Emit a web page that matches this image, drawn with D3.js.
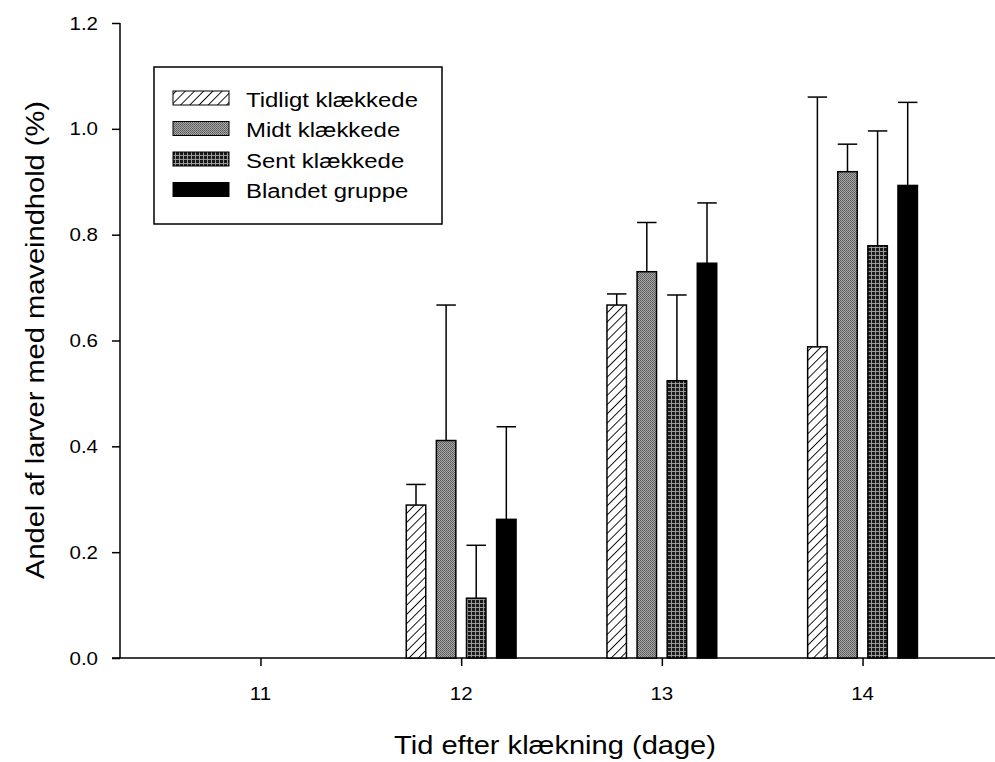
<!DOCTYPE html>
<html><head><meta charset="utf-8">
<script src="https://cdn.jsdelivr.net/npm/d3@7"></script>
<style>body{margin:0;background:#fff;} svg{display:block;font-family:Arial,"Liberation Sans",sans-serif;}</style>
</head><body>
<svg id="chart" width="995" height="762"></svg>
<script>
const days = [11, 12, 13, 14];
const seriesNames = ["Tidligt klækkede", "Midt klækkede", "Sent klækkede", "Blandet gruppe"];
const tidligt = [null, 0.289, 0.667, 0.588];
const tidligtErr = [null, 0.039, 0.021, 0.472];
const midt = [null, 0.411, 0.730, 0.919];
const midtErr = [null, 0.256, 0.093, 0.052];
const sent = [null, 0.113, 0.524, 0.779];
const sentErr = [null, 0.100, 0.162, 0.217];
const blandet = [null, 0.262, 0.746, 0.893];
const blandetErr = [null, 0.175, 0.114, 0.157];
const yTicks = [0.0, 0.2, 0.4, 0.6, 0.8, 1.0, 1.2];

const series = [
  {name: seriesNames[0], values: tidligt, errs: tidligtErr, fill: "url(#pHatch)"},
  {name: seriesNames[1], values: midt, errs: midtErr, fill: "url(#pMidt)"},
  {name: seriesNames[2], values: sent, errs: sentErr, fill: "url(#pSent)"},
  {name: seriesNames[3], values: blandet, errs: blandetErr, fill: "#000"}
];

const svg = d3.select("#chart");
const x = d3.scaleLinear().domain([10.3, 14.66]).range([120, 995]);
const y = d3.scaleLinear().domain([0, 1.2]).range([658, 23]);
const offsets = [-0.225, -0.075, 0.075, 0.225];
const bw = 0.097;
const SX = 1.14; // horizontal stretch of the original typeface

function label(g, px, py, txt, size, anchor, rot) {
  return g.append("text")
    .attr("transform", `translate(${px},${py}) rotate(${rot || 0}) scale(${SX},1)`)
    .attr("text-anchor", anchor).attr("font-size", size).attr("fill", "#000").text(txt);
}

// patterns
const defs = svg.append("defs");
const ph = defs.append("pattern").attr("id", "pHatch").attr("patternUnits", "userSpaceOnUse")
  .attr("width", 6.5).attr("height", 6.5).attr("patternTransform", "rotate(45)");
ph.append("rect").attr("width", 6.5).attr("height", 6.5).attr("fill", "#fff");
ph.append("line").attr("x1", 0).attr("y1", 0).attr("x2", 0).attr("y2", 6.5).attr("stroke", "#000").attr("stroke-width", 1.8);
const pm = defs.append("pattern").attr("id", "pMidt").attr("patternUnits", "userSpaceOnUse").attr("width", 2).attr("height", 2);
pm.append("rect").attr("width", 2).attr("height", 2).attr("fill", "#aaa");
pm.append("rect").attr("width", 1).attr("height", 1).attr("fill", "#555");
pm.append("rect").attr("x", 1).attr("y", 1).attr("width", 1).attr("height", 1).attr("fill", "#666");
const ps = defs.append("pattern").attr("id", "pSent").attr("patternUnits", "userSpaceOnUse").attr("width", 4).attr("height", 4);
ps.append("rect").attr("width", 4).attr("height", 4).attr("fill", "#1a1a1a");
ps.append("rect").attr("x", 0).attr("y", 3).attr("width", 4).attr("height", 1).attr("fill", "#9a9a9a");
ps.append("rect").attr("x", 3).attr("y", 0).attr("width", 1).attr("height", 4).attr("fill", "#9a9a9a");

// axes
const yAxis = d3.axisLeft(y).tickValues(yTicks).tickFormat("").tickSize(8);
const gy = svg.append("g").attr("transform", "translate(120,0)").call(yAxis);
gy.select(".domain").attr("stroke-width", 1.5).attr("d", "M0,23V658");
gy.selectAll(".tick line").attr("stroke-width", 1.5);
const fmtY = d3.format(".1f");
yTicks.forEach(t => label(svg, 98, y(t) + 6.5, fmtY(t), 18, "end"));

const xAxis = d3.axisBottom(x).tickValues(days).tickFormat("").tickSize(8);
const gx = svg.append("g").attr("transform", "translate(0,658)").call(xAxis);
gx.select(".domain").attr("stroke-width", 1.5).attr("d", "M112,0H995");
gx.selectAll(".tick line").attr("stroke-width", 1.5);
days.forEach(d => label(svg, x(d), 700, String(d), 18, "middle"));

// bars
series.forEach((s, si) => {
  const g = svg.append("g");
  days.forEach((d, i) => {
    const v = s.values[i];
    if (v == null) return;
    const x0 = x(d + offsets[si] - bw / 2), x1 = x(d + offsets[si] + bw / 2);
    const xc = x(d + offsets[si]);
    const top = y(v + s.errs[i]);
    g.append("line").attr("x1", xc).attr("x2", xc).attr("y1", y(v)).attr("y2", top).attr("stroke", "#000").attr("stroke-width", 1.5);
    g.append("line").attr("x1", x0).attr("x2", x1).attr("y1", top).attr("y2", top).attr("stroke", "#000").attr("stroke-width", 1.5);
    g.append("rect").attr("x", x0).attr("y", y(v)).attr("width", x1 - x0).attr("height", y(0) - y(v))
      .attr("fill", s.fill).attr("stroke", "#000").attr("stroke-width", 1.5);
  });
});

// legend
const lg = svg.append("g");
lg.append("rect").attr("x", 154).attr("y", 67).attr("width", 288).attr("height", 157)
  .attr("fill", "#fff").attr("stroke", "#000").attr("stroke-width", 1.5);
series.forEach((s, i) => {
  const yy = 91 + i * 30.5;
  lg.append("rect").attr("x", 173).attr("y", yy).attr("width", 56).attr("height", 14)
    .attr("fill", s.fill).attr("stroke", "#000").attr("stroke-width", 1);
  label(lg, 246, yy + 15.5, s.name, 21, "start");
});

// titles
label(svg, 555, 754, "Tid efter klækning (dage)", 25.5, "middle");
label(svg, 44, 340, "Andel af larver med maveindhold (%)", 25.5, "middle", -90);
</script>
</body></html>
